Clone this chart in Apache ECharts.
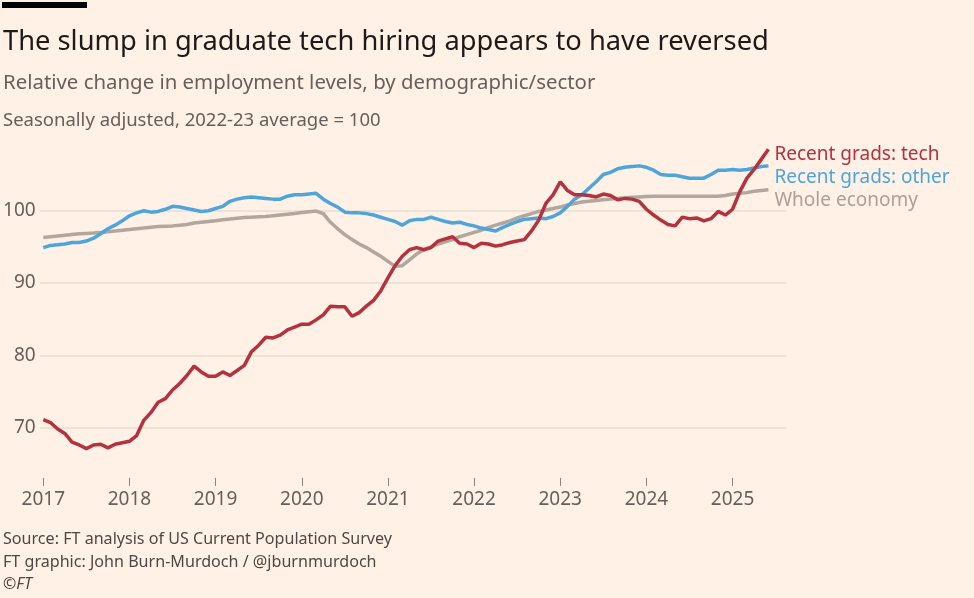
<!DOCTYPE html>
<html>
<head>
<meta charset="utf-8">
<script src="https://cdn.jsdelivr.net/npm/echarts@6/dist/echarts.min.js"></script>
<style>
  html, body { margin: 0; padding: 0; background: #fff1e5; }
  #chart { width: 974px; height: 598px; }
</style>
</head>
<body>
<div id="chart"></div>
<script>
// monthly, Jan 2017 .. Jun 2025
var startYear = 2017;
var yearLabels = ['2017', '2018', '2019', '2020', '2021', '2022', '2023', '2024', '2025'];
var yTicks = [70, 80, 90, 100];

var techGrads = [
    71.1, 70.7, 69.8, 69.2, 68.0, 67.6, 67.1, 67.6, 67.7, 67.2, 67.7, 67.9,
    68.1, 68.9, 71.0, 72.1, 73.5, 74.0, 75.2, 76.1, 77.2, 78.5, 77.7, 77.1,
    77.1, 77.7, 77.2, 77.9, 78.6, 80.5, 81.4, 82.5, 82.4, 82.8, 83.5, 83.9,
    84.3, 84.3, 84.9, 85.6, 86.8, 86.7, 86.7, 85.4, 85.9, 86.8, 87.6, 88.9,
    90.7, 92.4, 93.7, 94.6, 94.9, 94.6, 94.9, 95.8, 96.1, 96.4, 95.5, 95.4,
    94.9, 95.5, 95.4, 95.1, 95.3, 95.6, 95.8, 96.0, 97.2, 98.7, 101.0, 102.2,
    104.0, 102.8, 102.2, 102.2, 102.1, 101.9, 102.3, 102.1, 101.5, 101.7, 101.6, 101.3,
    100.2, 99.4, 98.7, 98.1, 97.9, 99.1, 98.9, 99.0, 98.6, 98.9, 99.9, 99.4,
    100.2, 102.6, 104.5, 105.7, 107.1, 108.5
];
var otherGrads = [
    94.9, 95.2, 95.3, 95.4, 95.6, 95.6, 95.8, 96.2, 96.8, 97.5, 98.0, 98.6,
    99.3, 99.7, 100.0, 99.8, 99.9, 100.2, 100.6, 100.5, 100.3, 100.1, 99.9, 100.0,
    100.3, 100.6, 101.3, 101.6, 101.8, 101.9, 101.8, 101.7, 101.6, 101.6, 102.0, 102.2,
    102.2, 102.3, 102.4, 101.6, 101.0, 100.5, 99.8, 99.7, 99.7, 99.6, 99.4, 99.1,
    98.8, 98.5, 98.0, 98.6, 98.8, 98.8, 99.1, 98.8, 98.5, 98.3, 98.4, 98.1,
    97.9, 97.6, 97.4, 97.2, 97.7, 98.1, 98.5, 98.8, 98.9, 99.0, 98.9, 99.2,
    99.7, 100.6, 101.6, 102.2, 103.1, 104.0, 105.0, 105.3, 105.8, 106.0, 106.1, 106.2,
    106.0, 105.6, 105.0, 104.9, 104.9, 104.7, 104.5, 104.5, 104.5, 105.0, 105.6, 105.6,
    105.7, 105.6, 105.7, 105.9, 106.1, 106.2
];
var wholeEconomy = [
    96.3, 96.4, 96.5, 96.6, 96.7, 96.8, 96.85, 96.9, 97.0, 97.1, 97.2, 97.3,
    97.4, 97.5, 97.6, 97.7, 97.8, 97.85, 97.9, 98.0, 98.1, 98.3, 98.4, 98.5,
    98.6, 98.75, 98.85, 98.95, 99.05, 99.1, 99.15, 99.2, 99.3, 99.4, 99.5, 99.6,
    99.75, 99.85, 99.95, 99.6, 98.4, 97.5, 96.7, 96.0, 95.4, 94.9, 94.3, 93.7,
    93.0, 92.3, 92.4, 93.2, 94.0, 94.6, 95.0, 95.4, 95.7, 96.0, 96.4, 96.7,
    97.0, 97.3, 97.7, 98.0, 98.3, 98.6, 99.0, 99.3, 99.6, 99.9, 100.1, 100.3,
    100.5, 100.8, 101.0, 101.2, 101.3, 101.4, 101.5, 101.6, 101.7, 101.8, 101.85, 101.9,
    101.95, 102.0, 102.0, 102.0, 102.0, 102.0, 102.0, 102.0, 102.0, 102.0, 102.0, 102.1,
    102.3, 102.4, 102.5, 102.7, 102.8, 102.9
];

// a couple of empty months after the data so the gridlines run on a little
var months = [];
for (var i = 0; i < techGrads.length + 2; i++) {
    months.push((startYear + Math.floor(i / 12)) + '-' + (i % 12 + 1));
}
function isJan(index) { return index % 12 === 0; }

var myChart = echarts.init(document.getElementById('chart'));
var font = 'Noto Sans';
var option = {
    backgroundColor: '#fff1e5',
    animation: false,
    textStyle: { fontFamily: font },
    graphic: [
        { type: 'rect', shape: { x: 2, y: 2, width: 85, height: 6 }, style: { fill: '#000000' } },
        { type: 'text', x: 3, y: 29, style: { text: 'The slump in graduate tech hiring appears to have reversed', font: '27.3px ' + font, fill: '#1d1b1a' } },
        { type: 'text', x: 3, y: 73, style: { text: 'Relative change in employment levels, by demographic/sector', font: '20.4px ' + font, fill: '#66605c' } },
        { type: 'text', x: 3, y: 111, style: { text: 'Seasonally adjusted, 2022-23 average = 100', font: '18.5px ' + font, fill: '#66605c' } },
        { type: 'text', x: 3, y: 531, style: { text: 'Source: FT analysis of US Current Population Survey', font: '16.1px ' + font, fill: '#4d4845' } },
        { type: 'text', x: 3, y: 554, style: { text: 'FT graphic: John Burn-Murdoch / @jburnmurdoch', font: '16.1px ' + font, fill: '#4d4845' } },
        { type: 'text', x: 3, y: 576, style: { text: '©FT', font: 'italic 16px ' + font, fill: '#4d4845' } }
    ],
    grid: { left: 39.7, right: 187.6, top: 138.4, bottom: 98.1, containLabel: false },
    xAxis: {
        type: 'category',
        data: months,
        boundaryGap: true,
        offset: -22,
        axisLine: { show: false },
        axisTick: {
            show: true,
            alignWithLabel: true,
            interval: function (index) { return isJan(index); },
            length: 8,
            lineStyle: { color: '#8c8580', width: 1 }
        },
        axisLabel: {
            interval: function (index) { return isJan(index); },
            formatter: function (value, index) { return yearLabels[Math.floor(index / 12)] || ''; },
            color: '#66605c',
            fontSize: 19,
            margin: 12
        },
        splitLine: { show: false }
    },
    yAxis: {
        type: 'value',
        min: 60,
        max: 110,
        interval: 10,
        axisLine: { show: false },
        axisTick: { show: false },
        axisLabel: {
            color: '#66605c',
            fontSize: 19,
            margin: 4,
            showMinLabel: false,
            showMaxLabel: false,
            formatter: function (v) { return yTicks.indexOf(v) >= 0 ? String(v) : ''; }
        },
        splitLine: {
            show: true,
            showMinLine: false,
            showMaxLine: false,
            lineStyle: { color: '#e8dbd0', width: 1.5 }
        }
    },
    series: [
        {
            name: 'Whole economy',
            type: 'line',
            data: wholeEconomy,
            showSymbol: false,
            lineStyle: { color: '#b1a79f', width: 3.5 },
            itemStyle: { color: '#b1a79f' },
            endLabel: { show: true, formatter: '{a}', color: '#aaa099', fontSize: 19, distance: 6, offset: [0, 11] }
        },
        {
            name: 'Recent grads: other',
            type: 'line',
            data: otherGrads,
            showSymbol: false,
            lineStyle: { color: '#4ea5dc', width: 3.5 },
            itemStyle: { color: '#4ea5dc' },
            endLabel: { show: true, formatter: '{a}', color: '#4ea5dc', fontSize: 19, distance: 6, offset: [0, 12] }
        },
        {
            name: 'Recent grads: tech',
            type: 'line',
            data: techGrads,
            showSymbol: false,
            lineStyle: { color: '#b4323e', width: 3.5 },
            itemStyle: { color: '#b4323e' },
            endLabel: { show: true, formatter: '{a}', color: '#b4323e', fontSize: 19, distance: 6, offset: [0, 5] }
        }
    ]
};
myChart.setOption(option);
window.addEventListener('resize', function () { myChart.resize(); });
</script>
</body>
</html>
